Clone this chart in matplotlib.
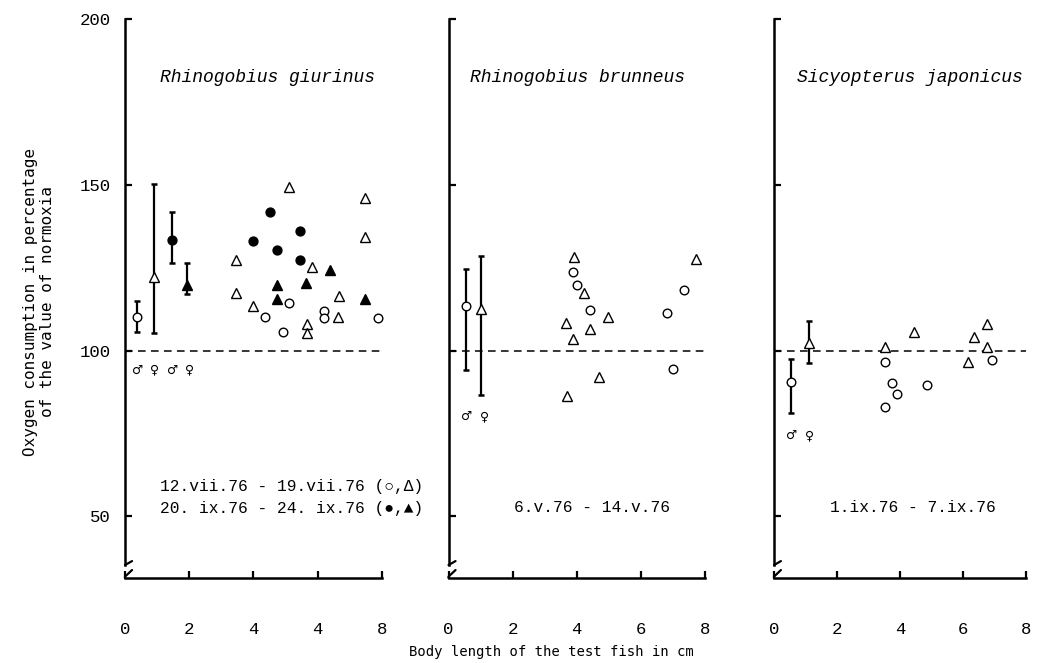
import matplotlib
matplotlib.use('Agg')
import matplotlib.pyplot as plt

# ---------------- data ----------------
titles = ["Rhinogobius giurinus", "Rhinogobius brunneus", "Sicyopterus japonicus"]
periods = [["12.vii.76 - 19.vii.76 (\u25cb,\u0394)", "20. ix.76 - 24. ix.76 (\u25cf,\u25b2)"],
           ["6.v.76 - 14.v.76"],
           ["1.ix.76 - 7.ix.76"]]
xtick_vals = [0, 2, 4, 6, 8]
xtick_labels = [["0", "2", "4", "4", "8"], ["0", "2", "4", "6", "8"], ["0", "2", "4", "6", "8"]]
ytick_vals = [50, 100, 150, 200]
ytick_labels = ["50", "100", "150", "200"]
normoxia = 100

# Panel 1 : Rhinogobius giurinus
p1_err_x = [0.38, 0.91, 1.47, 1.94]
p1_err_mean = [110.3, 122.3, 133.4, 119.8]
p1_err_lo = [105.6, 105.4, 126.6, 117.0]
p1_err_hi = [115.1, 150.2, 142.0, 126.4]
p1_err_kind = ["open_circle", "open_tri", "filled_circle", "filled_tri"]
p1_sex = ["\u2642", "\u2640", "\u2642", "\u2640"]
p1_sex_x = [0.38, 0.91, 1.47, 2.0]
p1_sex_y = 94.2
p1_otri_x = [3.45, 3.45, 4.0, 5.10, 5.84, 5.66, 5.66, 6.66, 6.63, 7.48, 7.48]
p1_otri_y = [127.4, 117.3, 113.5, 149.5, 125.4, 108.1, 105.4, 116.5, 110.3, 146.2, 134.4]
p1_ocirc_x = [4.36, 4.92, 5.10, 6.21, 6.21, 7.87]
p1_ocirc_y = [110.3, 105.5, 114.5, 112.0, 109.8, 110.0]
p1_fcirc_x = [3.99, 4.53, 4.73, 5.46, 5.46]
p1_fcirc_y = [133.1, 142.0, 130.3, 136.1, 127.4]
p1_ftri_x = [4.74, 4.74, 5.64, 6.38, 7.49]
p1_ftri_y = [119.8, 115.6, 120.3, 124.4, 115.6]

# Panel 2 : Rhinogobius brunneus
p2_err_x = [0.56, 1.02]
p2_err_mean = [113.6, 112.5]
p2_err_lo = [94.2, 86.6]
p2_err_hi = [124.6, 128.6]
p2_err_kind = ["open_circle", "open_tri"]
p2_sex = ["\u2642", "\u2640"]
p2_sex_x = [0.56, 1.13]
p2_sex_y = 80.1
p2_otri_x = [3.92, 4.24, 3.67, 4.42, 4.96, 3.87, 4.68, 3.70, 7.73]
p2_otri_y = [128.2, 117.5, 108.5, 106.5, 110.1, 103.5, 92.2, 86.3, 127.7]
p2_ocirc_x = [3.87, 4.00, 4.40, 6.82, 7.36, 7.00]
p2_ocirc_y = [123.8, 119.8, 112.3, 111.4, 118.4, 94.6]

# Panel 3 : Sicyopterus japonicus
p3_err_x = [0.53, 1.11]
p3_err_mean = [90.6, 102.4]
p3_err_lo = [81.1, 96.2]
p3_err_hi = [97.4, 109.1]
p3_err_kind = ["open_circle", "open_tri"]
p3_sex = ["\u2642", "\u2640"]
p3_sex_x = [0.56, 1.14]
p3_sex_y = 74.3
p3_otri_x = [3.51, 4.45, 6.36, 6.75, 6.75, 6.17]
p3_otri_y = [101.2, 105.6, 104.0, 108.1, 101.2, 96.5]
p3_ocirc_x = [3.52, 3.74, 3.90, 3.52, 4.85, 6.93]
p3_ocirc_y = [96.7, 90.2, 87.0, 83.1, 89.7, 97.3]

# ---------------- styling ----------------
W, H = 1037, 663
fig = plt.figure(figsize=(W / 100, H / 100), dpi=100)
YMIN, YMAX = 31.4, 202
XMAX = 8.25

MONO = ['Liberation Mono', 'DejaVu Sans']
STY = {
    "open_circle": dict(marker='o', ms=6.2, mfc='white', mec='black', mew=1.0),
    "open_tri": dict(marker='^', ms=6.8, mfc='white', mec='black', mew=1.0),
    "filled_circle": dict(marker='o', ms=6.4, mfc='black', mec='black', mew=1.0),
    "filled_tri": dict(marker='^', ms=6.8, mfc='black', mec='black', mew=1.0),
}

def y_px(v):
    return 350.7 - (v - 100) * 3.313

panel_px = [(125, 381.7), (448.5, 705), (774, 1026)]
axes = []
for (x0, x8) in panel_px:
    left = x0 / W
    width = (x8 - x0) * XMAX / 8 / W
    top = y_px(YMAX)
    bottom = y_px(YMIN)
    ax = fig.add_axes([left, (H - bottom) / H, width, (bottom - top) / H])
    ax.set_xlim(0, XMAX)
    ax.set_ylim(YMIN, YMAX)
    ax.patch.set_alpha(0)
    for s in ['top', 'right']:
        ax.spines[s].set_visible(False)
    ax.spines['left'].set_bounds(35.3, 200)
    ax.spines['bottom'].set_bounds(0, 8)
    ax.spines['left'].set_linewidth(1.8)
    ax.spines['bottom'].set_linewidth(1.8)
    # axis break marks
    ax.plot([0, 0.22], [35.3, 36.5], color='black', lw=1.6, clip_on=False, solid_capstyle='round')
    ax.plot([0, 0, 0.22], [31.4, 31.8, 33.8], color='black', lw=1.6, clip_on=False, solid_capstyle='round')
    ax.set_yticks(ytick_vals)
    ax.tick_params(axis='y', direction='in', length=5, width=1.6, pad=10)
    ax.set_xticks(xtick_vals)
    ax.tick_params(axis='x', direction='in', length=5, width=1.6, pad=32)
    axes.append(ax)

panels = [
    (p1_err_x, p1_err_mean, p1_err_lo, p1_err_hi, p1_err_kind, p1_sex, p1_sex_x, p1_sex_y,
     p1_otri_x, p1_otri_y, p1_ocirc_x, p1_ocirc_y),
    (p2_err_x, p2_err_mean, p2_err_lo, p2_err_hi, p2_err_kind, p2_sex, p2_sex_x, p2_sex_y,
     p2_otri_x, p2_otri_y, p2_ocirc_x, p2_ocirc_y),
    (p3_err_x, p3_err_mean, p3_err_lo, p3_err_hi, p3_err_kind, p3_sex, p3_sex_x, p3_sex_y,
     p3_otri_x, p3_otri_y, p3_ocirc_x, p3_ocirc_y),
]

for i, (ax, pdata) in enumerate(zip(axes, panels)):
    (ex, em, elo, ehi, ekind, sex, sx, sy, otx, oty, ocx, ocy) = pdata
    ax.plot([0, 8], [normoxia, normoxia], color='black', lw=1.1, ls=(0, (5, 3.5)), zorder=1)
    for x, m, lo, hi, k in zip(ex, em, elo, ehi, ekind):
        ax.errorbar([x], [m], yerr=[[m - lo], [hi - m]], fmt='none', ecolor='black',
                    elinewidth=1.6, capsize=2.4, capthick=1.8, zorder=2)
        ax.plot([x], [m], ls='none', zorder=3, **STY[k])
    for s, x in zip(sex, sx):
        ax.text(x, sy, s, ha='center', va='center', fontsize=9, family='DejaVu Sans')
    ax.plot(otx, oty, ls='none', zorder=3, **STY["open_tri"])
    ax.plot(ocx, ocy, ls='none', zorder=3, **STY["open_circle"])
    ax.set_xticklabels(xtick_labels[i], fontsize=12.5, family=MONO)
    if i == 0:
        ax.set_yticklabels(ytick_labels, fontsize=12.5, family=MONO)
    else:
        ax.set_yticklabels([])

axes[0].plot(p1_fcirc_x, p1_fcirc_y, ls='none', zorder=3, **STY["filled_circle"])
axes[0].plot(p1_ftri_x, p1_ftri_y, ls='none', zorder=3, **STY["filled_tri"])

# titles
title_px = [(268, 77), (577, 77), (910, 77)]
for t, (x, y) in zip(titles, title_px):
    fig.text(x / W, 1 - y / H, t, ha='center', va='center', fontsize=13,
             family=MONO, style='italic')

# period texts
fig.text(160 / W, 1 - 487 / H, periods[0][0], ha='left', va='center', fontsize=11.7, family=MONO)
fig.text(160 / W, 1 - 508 / H, periods[0][1], ha='left', va='center', fontsize=11.7, family=MONO)
fig.text(592 / W, 1 - 508 / H, periods[1][0], ha='center', va='center', fontsize=11.7, family=MONO)
fig.text(913 / W, 1 - 508 / H, periods[2][0], ha='center', va='center', fontsize=11.7, family=MONO)

# axis labels
fig.text(39 / W, 1 - 302 / H, "Oxygen consumption in percentage\nof the value of normoxia",
         rotation=90, ha='center', va='center', fontsize=11.5, family='DejaVu Sans Mono',
         multialignment='center', linespacing=1.15)
fig.text(551 / W, 1 - 652 / H, "Body length of the test fish in cm", ha='center', va='center',
         fontsize=10, family='DejaVu Sans Mono')

fig.savefig('out.png', dpi=100)
